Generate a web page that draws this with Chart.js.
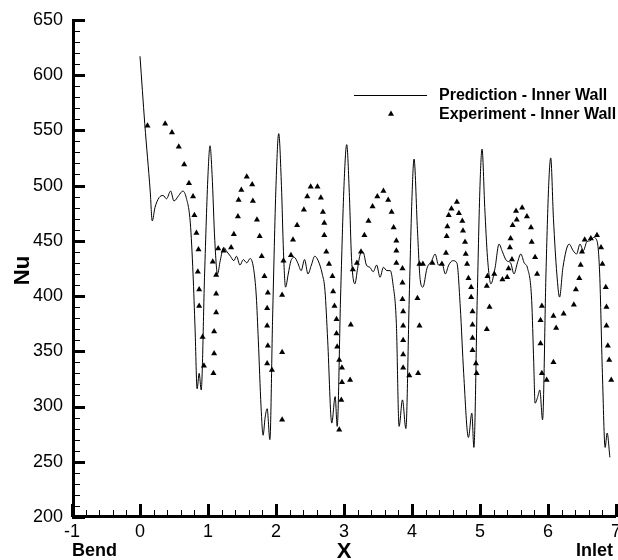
<!DOCTYPE html>
<html>
<head>
<meta charset="utf-8">
<script src="https://cdn.jsdelivr.net/npm/chart.js@4.4.0/dist/chart.umd.min.js"></script>
<style>
  body { margin: 0; background: #fff; }
  #wrap { width: 618px; height: 560px; }
</style>
</head>
<body>
<div id="wrap"><canvas id="nuChart" width="618" height="560"></canvas></div>
<script>
// prediction (solid line)
const predX = [0, 0.07, 0.15, 0.18, 0.22, 0.28, 0.34, 0.39, 0.45, 0.50,
  0.57, 0.63, 0.68, 0.74, 0.78, 0.81, 0.84, 0.87, 0.90, 0.95,
  1.00, 1.03, 1.06, 1.10, 1.14, 1.18, 1.23, 1.28, 1.33, 1.38,
  1.42, 1.47, 1.52, 1.57, 1.62, 1.67, 1.71, 1.74, 1.78, 1.81,
  1.84, 1.87, 1.91, 1.95, 2.00, 2.04, 2.08, 2.11, 2.14, 2.18,
  2.22, 2.27, 2.32, 2.37, 2.42, 2.47, 2.52, 2.57, 2.62, 2.68,
  2.72, 2.76, 2.82, 2.87, 2.90, 2.95, 3.00, 3.04, 3.08, 3.11,
  3.16, 3.20, 3.24, 3.28, 3.33, 3.38, 3.43, 3.48, 3.53, 3.58,
  3.63, 3.68, 3.72, 3.77, 3.81, 3.86, 3.91, 3.96, 4.00, 4.03,
  4.08, 4.12, 4.16, 4.22, 4.29, 4.34, 4.39, 4.44, 4.49, 4.54,
  4.60, 4.66, 4.71, 4.76, 4.83, 4.88, 4.91, 4.96, 5.00, 5.03,
  5.07, 5.11, 5.16, 5.22, 5.28, 5.33, 5.39, 5.45, 5.50, 5.55,
  5.60, 5.65, 5.70, 5.76, 5.79, 5.81, 5.85, 5.88, 5.92, 5.97,
  6.01, 6.04, 6.08, 6.13, 6.17, 6.22, 6.31, 6.37, 6.42, 6.47,
  6.52, 6.57, 6.62, 6.67, 6.72, 6.76, 6.80, 6.84, 6.87, 6.91];
const predY = [617, 556, 495, 468, 480, 489, 491, 488, 495, 486,
  491, 495, 489, 466, 420, 370, 316, 330, 315, 420,
  510, 536, 510, 450, 420, 432, 444, 440, 436, 432,
  436, 428, 433, 430, 434, 425, 400, 360, 300, 274,
  290, 298, 270, 380, 500, 547, 500, 440, 408, 420,
  432, 435, 430, 423, 433, 420, 428, 436, 432, 420,
  405, 360, 285, 309, 282, 400, 500, 537, 490, 435,
  411, 425, 438, 440, 428, 426, 422, 428, 417, 426,
  423, 423, 411, 375, 282, 306, 280, 400, 490, 524,
  460, 415, 408, 425, 432, 438, 428, 430, 420, 428,
  432, 430, 390, 330, 272, 294, 263, 400, 500, 533,
  480, 435, 411, 425, 447, 440, 432, 430, 420, 430,
  438, 430, 425, 396, 340, 303, 309, 315, 288, 420,
  500, 525, 470, 420, 399, 426, 447, 441, 438, 447,
  441, 449, 450, 453, 450, 420, 330, 263, 276, 254];

// experiment (triangles)
const expX = [0.11, 0.37, 0.47, 0.57, 0.65, 0.72, 0.78, 0.80, 0.83, 0.86,
  0.85, 0.87, 0.87, 0.92, 0.94, 1.07, 1.12, 1.12, 1.12, 1.09,
  1.09, 1.08, 1.15, 1.23, 1.34, 1.38, 1.44, 1.45, 1.49, 1.57,
  1.65, 1.66, 1.72, 1.76, 1.79, 1.83, 1.88, 1.87, 1.87, 1.88,
  1.87, 1.94, 2.09, 2.09, 2.09, 2.11, 2.22, 2.25, 2.31, 2.41,
  2.46, 2.51, 2.61, 2.66, 2.69, 2.71, 2.71, 2.74, 2.78, 2.83,
  2.84, 2.86, 2.89, 2.89, 2.90, 2.93, 2.97, 2.97, 3.09, 2.96,
  2.93, 3.10, 3.13, 3.19, 3.25, 3.30, 3.36, 3.42, 3.49, 3.58,
  3.65, 3.70, 3.73, 3.77, 3.77, 3.77, 3.86, 3.86, 3.86, 3.87,
  3.87, 3.87, 3.87, 3.87, 3.96, 4.09, 4.08, 4.11, 4.11, 4.16,
  4.30, 4.44, 4.50, 4.51, 4.52, 4.54, 4.58, 4.66, 4.69, 4.74,
  4.75, 4.78, 4.79, 4.81, 4.83, 4.87, 4.87, 4.89, 4.89, 4.89,
  4.89, 4.94, 4.95, 5.10, 5.11, 5.14, 5.10, 5.21, 5.33, 5.40,
  5.42, 5.47, 5.44, 5.45, 5.48, 5.54, 5.53, 5.62, 5.69, 5.75,
  5.76, 5.81, 5.84, 5.91, 5.89, 5.89, 5.91, 5.98, 6.08, 6.12,
  6.08, 6.23, 6.38, 6.41, 6.46, 6.48, 6.50, 6.54, 6.63, 6.72,
  6.78, 6.80, 6.85, 6.86, 6.86, 6.88, 6.90, 6.93];
const expY = [554, 556, 548, 535, 519, 502, 490, 473, 457, 442,
  422, 406, 391, 363, 337, 431, 419, 402, 385, 368,
  348, 330, 443, 441, 444, 456, 472, 487, 496, 508,
  501, 486, 469, 454, 436, 418, 403, 389, 373, 355,
  339, 333, 401, 349, 288, 432, 437, 451, 464, 478,
  490, 499, 499, 489, 476, 466, 455, 440, 429, 418,
  404, 391, 379, 366, 354, 342, 335, 322, 324, 306,
  279, 374, 424, 430, 440, 455, 468, 481, 490, 495,
  487, 476, 462, 450, 441, 430, 425, 412, 397, 386,
  373, 360, 347, 335, 328, 330, 398, 373, 429, 429,
  430, 429, 439, 454, 463, 473, 479, 485, 475, 468,
  459, 449, 438, 429, 416, 408, 399, 386, 374, 362,
  351, 339, 330, 409, 418, 390, 370, 420, 415, 417,
  425, 433, 444, 452, 464, 469, 477, 480, 472, 462,
  449, 435, 420, 391, 378, 357, 330, 324, 382, 371,
  340, 384, 392, 406, 416, 428, 440, 451, 452, 455,
  444, 429, 408, 390, 373, 355, 342, 324];

const xTicks = [-1, 0, 1, 2, 3, 4, 5, 6, 7];
const yTicks = [200, 250, 300, 350, 400, 450, 500, 550, 600, 650];
const seriesNames = ['Prediction - Inner Wall', 'Experiment - Inner Wall'];
const endLabels = ['Bend', 'Inlet'];

const FONT = 'Arial, "Liberation Sans", sans-serif';

// axis lines, inward major/minor ticks, axis titles, end labels and the legend
const decor = {
  id: 'decor',
  afterDraw(chart) {
    const c = chart.ctx;
    const xs = chart.scales.x, ys = chart.scales.y;
    const a = chart.chartArea;
    const left = Math.round(a.left), top = Math.round(a.top);
    const right = Math.round(a.right), bottom = Math.round(a.bottom);
    c.save();
    c.fillStyle = '#000';

    // axis lines, 3px thick
    c.fillRect(left, top - 1, 3, bottom - top + 1);
    c.fillRect(left, bottom - 2, right - left, 3);

    // y ticks every 10, major every 50
    for (let v = yTicks[0]; v <= yTicks[yTicks.length - 1]; v += 10) {
      const major = yTicks.includes(v);
      const py = Math.round(ys.getPixelForValue(v));
      if (major) c.fillRect(left, py - 1, 13, 3);
      else c.fillRect(left, py, 8, 1);
    }
    // x ticks every 0.2, major every 1
    for (let i = xTicks[0] * 5; i <= xTicks[xTicks.length - 1] * 5; i++) {
      const major = i % 5 === 0;
      const px = Math.round(xs.getPixelForValue(i / 5));
      if (major) c.fillRect(px - 1, bottom - 13, 3, 13);
      else c.fillRect(px, bottom - 7, 1, 7);
    }

    c.font = 'bold 18px ' + FONT;
    c.textBaseline = 'alphabetic';
    c.textAlign = 'left';
    c.fillText(endLabels[0], left, 556);
    c.textAlign = 'right';
    c.fillText(endLabels[1], right - 3, 556);

    c.font = 'bold 22px ' + FONT;
    c.textAlign = 'center';
    c.fillText('X', (left + right) / 2, 558);
    c.save();
    c.translate(29, (top + bottom) / 2 + 2);
    c.rotate(-Math.PI / 2);
    c.fillText('Nu', 0, 0);
    c.restore();

    // legend
    c.fillRect(354, 95, 73, 1);
    const tx = 391, ty = 114, r = 3.5;
    c.beginPath();
    c.moveTo(tx, ty - r);
    c.lineTo(tx + r * 0.866, ty + r / 2);
    c.lineTo(tx - r * 0.866, ty + r / 2);
    c.closePath();
    c.fill();
    c.font = 'bold 16px ' + FONT;
    c.textAlign = 'left';
    c.fillText(seriesNames[0], 439, 100);
    c.fillText(seriesNames[1], 439, 119);
    c.restore();
  }
};

new Chart(document.getElementById('nuChart').getContext('2d'), {
  type: 'scatter',
  data: {
    datasets: [{
      label: seriesNames[0],
      data: predX.map((x, i) => ({ x: x, y: predY[i] })),
      showLine: true,
      borderColor: '#000',
      borderWidth: 1,
      pointRadius: 0,
      cubicInterpolationMode: 'monotone',
      order: 2
    }, {
      label: seriesNames[1],
      data: expX.map((x, i) => ({ x: x, y: expY[i] })),
      showLine: false,
      pointStyle: 'triangle',
      pointRadius: 3.5,
      backgroundColor: '#000',
      borderWidth: 0,
      order: 1
    }]
  },
  options: {
    responsive: false,
    animation: false,
    layout: { autoPadding: false, padding: { left: 0, top: 19, right: 2, bottom: 0 } },
    plugins: {
      legend: { display: false },
      tooltip: { enabled: false }
    },
    scales: {
      x: {
        type: 'linear',
        min: -1,
        max: 7,
        afterBuildTicks: s => { s.ticks = xTicks.map(v => ({ value: v })); },
        afterFit: s => { s.height = 43; s.paddingLeft = 0; s.paddingRight = 0; },
        grid: { display: false, drawTicks: false },
        border: { display: false },
        ticks: { color: '#000', padding: 4, font: { family: FONT, size: 18 } }
      },
      y: {
        type: 'linear',
        min: 200,
        max: 650,
        afterBuildTicks: s => { s.ticks = yTicks.map(v => ({ value: v })); },
        afterFit: s => { s.width = 72; },
        grid: { display: false, drawTicks: false },
        border: { display: false },
        ticks: { color: '#000', padding: 9, font: { family: FONT, size: 18 } }
      }
    }
  },
  plugins: [decor]
});
</script>
</body>
</html>
